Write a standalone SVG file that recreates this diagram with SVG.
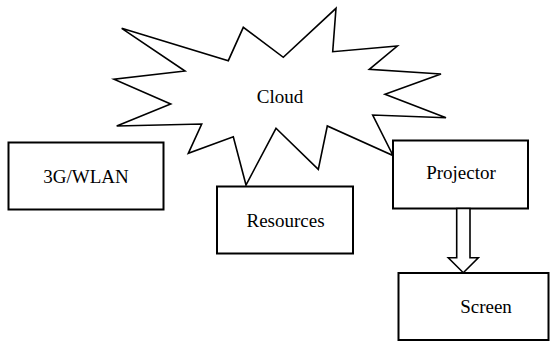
<svg xmlns="http://www.w3.org/2000/svg" width="550" height="344" viewBox="0 0 550 344">
<style>
.box{fill:#fff;stroke:#000;stroke-width:2}
.star{fill:#fff;stroke:#000;stroke-width:1.6;stroke-linejoin:miter}
.lbl{font-family:'Liberation Serif',Tinos,'Times New Roman','DejaVu Serif','Noto Serif',serif;font-size:19px;fill:#000;text-anchor:middle}
.arr{fill:#fff;stroke:#000;stroke-width:1.6}
</style>
<rect width="550" height="344" fill="#fff"/>
<g id="cloud">
<polygon class="star" points="121.7,28.3 228.3,60.7 243.3,27.3 283.3,57.3 336,8.3 332.7,51.7 397.3,46 369.3,69.3 441,74 385,94.3 446,117.7 372.7,115 393,155.5 327.3,126 318.3,169.3 276,128.3 246,185 233.3,136.7 188.3,153.3 201.7,124 116.7,126 170.7,104 114,79.3 185,71"/>
<text class="lbl" x="280" y="103" font-family="'Liberation Serif', 'DejaVu Serif', serif">Cloud</text>
</g>
<g id="wlan">
<rect class="box" x="8.5" y="142.5" width="155" height="67"/>
<text class="lbl" x="86" y="183">3G/WLAN</text>
</g>
<g id="resources">
<rect class="box" x="217" y="186.5" width="136" height="67"/>
<text class="lbl" x="285.5" y="227">Resources</text>
</g>
<g id="projector">
<rect class="box" x="393" y="140.5" width="135" height="68"/>
<text class="lbl" x="461" y="179">Projector</text>
</g>
<g id="screen">
<rect class="box" x="398.5" y="273" width="150" height="67"/>
<text class="lbl" x="486" y="313">Screen</text>
</g>
<g id="connectors">
<polygon class="arr" points="456.7,208.5 470,208.5 470,257.7 478.3,257.7 463.3,272.7 448.3,257.7 456.7,257.7"/>
</g>
</svg>
